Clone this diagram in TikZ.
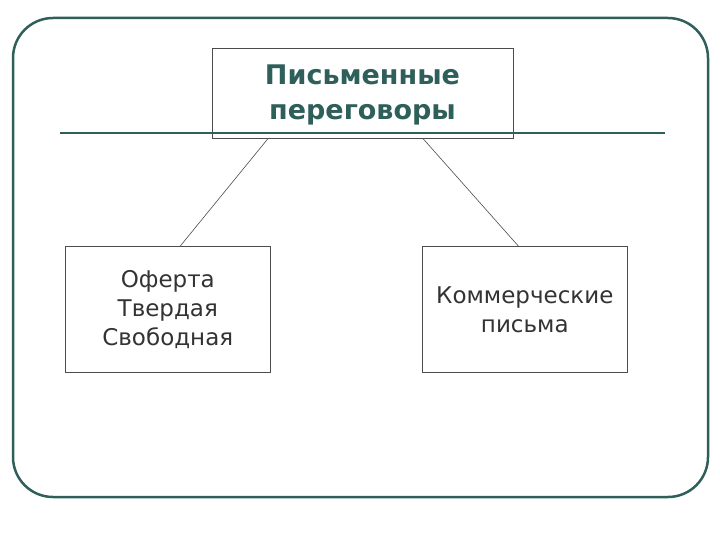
\documentclass[tikz,border=0pt]{standalone}
\usepackage{fontspec}
\setmainfont{DejaVu Sans}
\definecolor{teal1}{HTML}{2F5F5A}
\definecolor{txt}{HTML}{333333}
\begin{document}
\begin{tikzpicture}[x=1pt,y=-1pt,
  box/.style={draw=black!70,line width=0.6pt,fill=white,minimum width=#1,inner sep=0pt},
  conn/.style={draw=black!70,line width=0.6pt}]
\useasboundingbox (0,0) rectangle (720,540);
\draw[teal1,line width=2.5pt,rounded corners=40pt] (13,18) rectangle (708,497);
\node[box=301pt,minimum height=90pt,anchor=north west] (top) at (212,48) {};
\draw[teal1,line width=2.5pt] (60,133) coordinate (hl) -- (665,133) coordinate (hr);
\node[align=center,font=\fontsize{27}{35}\selectfont\bfseries,text=teal1] (title) at (362.5,95) {Письменные\\переговоры};
\node[box=205pt,minimum height=126pt,anchor=north west,align=center,font=\fontsize{23}{29}\selectfont,text=txt] (l) at (65,246) {Оферта\\Твердая\\Свободная};
\node[box=205pt,minimum height=126pt,anchor=north west,align=center,font=\fontsize{23}{29}\selectfont,text=txt] (r) at (422,246) {Коммерческие\\письма};
\draw[conn] ([xshift=56pt]top.south west) -- ([xshift=12.5pt]l.north);
\draw[conn] ([xshift=211pt]top.south west) -- ([xshift=-6.5pt]r.north);
\end{tikzpicture}
\end{document}
